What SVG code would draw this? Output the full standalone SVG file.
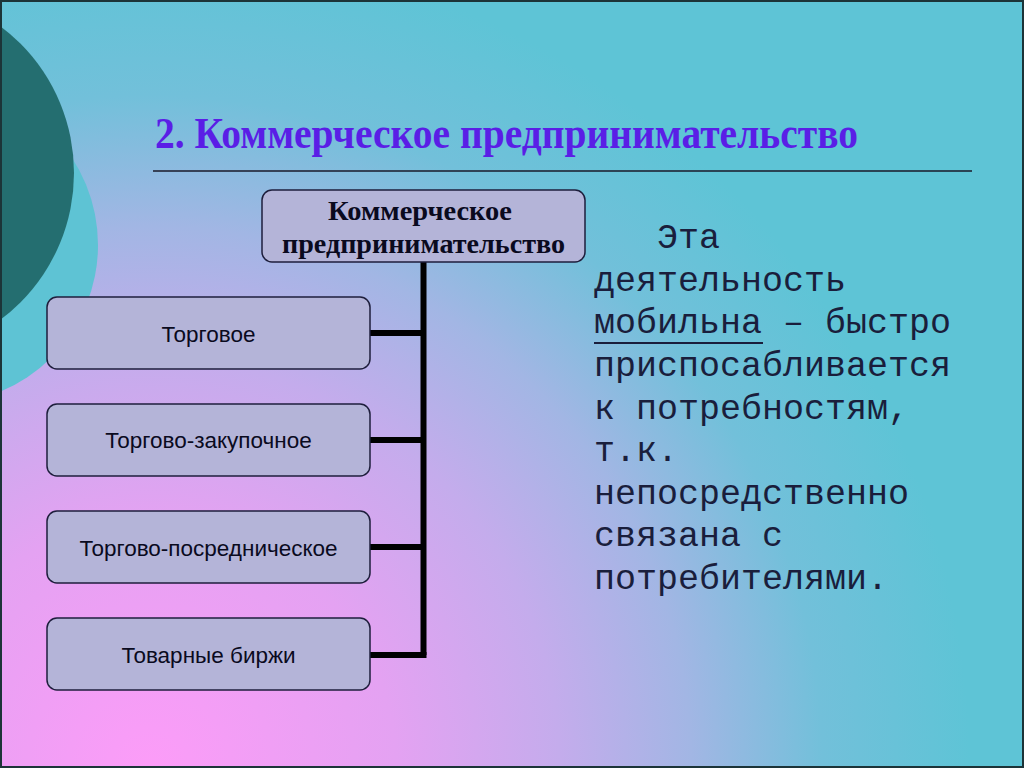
<svg xmlns="http://www.w3.org/2000/svg" width="1024" height="768" viewBox="0 0 1024 768">
<defs>
<radialGradient id="bg" gradientUnits="userSpaceOnUse" cx="150" cy="768" r="820">
<stop offset="0" stop-color="#fc9cf8"/>
<stop offset="0.3" stop-color="#e4a2f2"/>
<stop offset="0.5" stop-color="#c4acec"/>
<stop offset="0.66" stop-color="#a2b6e4"/>
<stop offset="0.82" stop-color="#72c0da"/>
<stop offset="1" stop-color="#5ec4d6"/>
</radialGradient>
<style>
.box{fill:#b4b4d8;stroke:#1e1e3c;stroke-width:1.5}
.lbl{font-family:"Liberation Sans",Arial,sans-serif;font-size:22.5px;fill:#0a0a1e;text-anchor:middle}
.conn{stroke:#000;stroke-width:6;fill:none}
.body{font-family:"Liberation Mono","Courier New",monospace;font-size:35px;fill:#1a1e3c}
.hdr{font-family:"Liberation Serif","Times New Roman",serif;font-weight:bold}
</style>
</defs>
<rect x="0" y="0" width="1024" height="768" fill="url(#bg)"/>
<circle cx="-61" cy="245" r="159" fill="#5ec3d4"/>
<circle cx="-109" cy="173" r="183" fill="#246e70"/>
<rect x="1" y="1" width="1022" height="766" fill="none" stroke="#1c3438" stroke-width="2"/>
<text class="hdr" x="155" y="148" font-size="45" fill="#5a1ee6" textLength="703" lengthAdjust="spacingAndGlyphs">2. Коммерческое предпринимательство</text>
<line x1="153" y1="171" x2="972" y2="171" stroke="#1a1a2a" stroke-width="1.5"/>
<g id="connectors">
<path class="conn" d="M423.5 262 V655"/>
<path class="conn" d="M370 333 H423.5 M370 440 H423.5 M370 547 H423.5 M370 655 H426.5"/>
</g>
<g id="node-root">
<rect class="box" x="262" y="190" width="323" height="72" rx="10"/>
<text class="hdr" x="420" y="219.5" font-size="28" fill="#0a0a1e" text-anchor="middle" textLength="184" lengthAdjust="spacingAndGlyphs">Коммерческое</text>
<text class="hdr" x="423.5" y="252.5" font-size="28" fill="#0a0a1e" text-anchor="middle" textLength="283" lengthAdjust="spacingAndGlyphs">предпринимательство</text>
</g>
<g id="node-1">
<rect class="box" x="47" y="297" width="323" height="72" rx="10"/>
<text class="lbl" x="208.5" y="341.5">Торговое</text>
</g>
<g id="node-2">
<rect class="box" x="47" y="404" width="323" height="72" rx="10"/>
<text class="lbl" x="208.5" y="448">Торгово-закупочное</text>
</g>
<g id="node-3">
<rect class="box" x="47" y="511" width="323" height="72" rx="10"/>
<text class="lbl" x="208.5" y="555.5">Торгово-посредническое</text>
</g>
<g id="node-4">
<rect class="box" x="47" y="618" width="323" height="72" rx="10"/>
<text class="lbl" x="208.5" y="662.5">Товарные биржи</text>
</g>
<g id="description">
<text class="body" x="657" y="248">Эта</text>
<text class="body" x="594" y="291">деятельность</text>
<text class="body" x="594" y="333">мобильна – быстро</text>
<line x1="594" y1="343" x2="763" y2="343" stroke="#1a1e3c" stroke-width="2"/>
<text class="body" x="594" y="376">приспосабливается</text>
<text class="body" x="594" y="419">к потребностям,</text>
<text class="body" x="594" y="461">т.к.</text>
<text class="body" x="594" y="504">непосредственно</text>
<text class="body" x="594" y="546">связана с</text>
<text class="body" x="594" y="589">потребителями.</text>
</g>
</svg>
